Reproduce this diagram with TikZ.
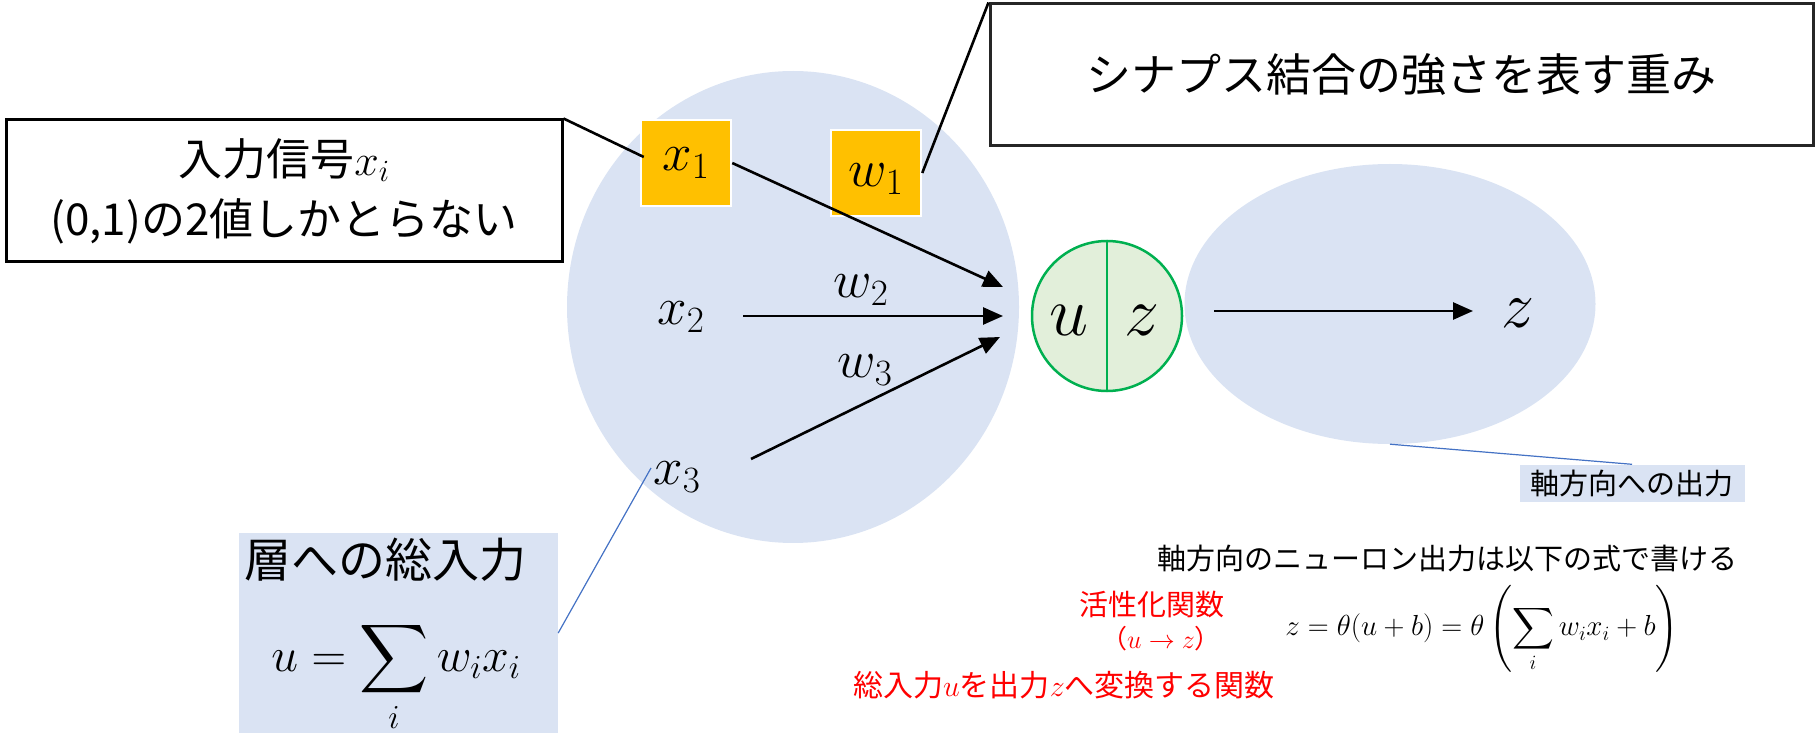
\RequirePackage{fix-cm}
\documentclass[tikz,border=0pt]{standalone}
\usepackage{exscale}
\DeclareFontShape{OMX}{cmex}{m}{n}{<->cmex10}{}
\usepackage[no-math]{fontspec}
\setmainfont{Noto Sans CJK JP}
\usetikzlibrary{arrows.meta,calc,shapes.geometric}
\definecolor{lblue}{HTML}{DAE3F3}
\definecolor{orng}{HTML}{FFC000}
\definecolor{gfill}{HTML}{E2EFDA}
\definecolor{gline}{HTML}{00B050}
\definecolor{bline}{HTML}{4472C4}
\newcommand{\setfs}[1]{\fontsize{#1}{#1}\selectfont}
\begin{document}
\begin{tikzpicture}[x=1pt,y=-1pt,
  arr/.style={line width=2.6pt,-{Triangle[length=20pt,width=17pt]}},
  callout/.style={line width=2.6pt},
  thinblue/.style={line width=1.2pt,draw=bline},
  textbox/.style={draw=black,line width=3pt,fill=white,inner sep=0pt},
  obox/.style={fill=orng,draw=white,line width=2.5pt,minimum width=90pt,minimum height=86pt,inner sep=0pt},
  mlab/.style={inner sep=0pt,font=\setfs{53}},
  blob/.style={ellipse,fill=lblue,inner sep=0pt},
]
\useasboundingbox (0,0) rectangle (1816,735);

% layer ellipse and axon ellipse
\node[blob,minimum width=452pt,minimum height=472pt] (layer) at (793,307) {};
\node[blob,minimum width=411pt,minimum height=280pt] (axon) at (1390,304) {};

% boxes with text
\node[textbox,minimum width=556pt,minimum height=142pt,align=center,font=\fontsize{44}{60}\selectfont] (inbox) at (284,191)
  {入力信号$x_i$\\(0,1)の2値しかとらない};
\node[textbox,draw=black!85,minimum width=823pt,minimum height=142pt,font=\setfs{45}] (wbox) at (1401.5,75)
  {シナプス結合の強さを表す重み};

% orange boxes
\node[obox] (x1box) at (686,163) {};
\node[mlab] (x1) at (686,163) {$x_1$};
\node[obox] (w1box) at (876,173) {};
\node[mlab] (w1) at (876,179) {$w_1$};

% other labels
\node[mlab] (x2) at (681,317) {$x_2$};
\node[mlab] (x3) at (677,477) {$x_3$};
\node[mlab] (w2) at (861,290) {$w_2$};
\node[mlab] (w3) at (865,370) {$w_3$};

% neuron body
\node[circle,fill=gfill,draw=gline,line width=2.5pt,minimum size=150pt,inner sep=0pt] (body) at (1107,316) {};
\draw[gline,line width=2.5pt] (body.north) -- (body.south);
\node[inner sep=0pt,font=\setfs{70}] (u) at (1069,320) {$u$};
\node[inner sep=0pt,font=\setfs{70}] (zb) at (1142,320) {$z$};

% output z
\node[inner sep=0pt,font=\setfs{66}] (zout) at (1518,313) {$z$};

% arrow coordinates
\coordinate (e1) at (1003,287);
\coordinate (e2) at (1003,316);
\coordinate (e3) at (1000,337);
\coordinate (s2) at (743,316);
\coordinate (s3) at (751,459);
\coordinate (so) at (1214,311);
\coordinate (eo) at (1473,311);

\draw[arr] (x1box.east) -- (e1);
\draw[arr] (s2) -- (e2);
\draw[arr] (s3) -- (e3);
\draw[arr] (so) -- (eo);

% callouts
\draw[callout] (inbox.north east) -- ($(x1box.west)+(4,-6)$);
\draw[callout] (wbox.north west) -- (w1box.east);

% sum box
\node[fill=lblue,minimum width=319pt,minimum height=200pt,inner sep=0pt] (sumbox) at (398.5,633) {};
\node[inner sep=0pt,font=\setfs{47}] (sumtitle) at (385,560) {層への総入力};
\node[inner sep=0pt,font=\setfs{48}] (sumeq) at (396,677) {$\displaystyle u=\sum_i w_i x_i$};
\coordinate (x3tip) at (651,468);
\draw[thinblue] (x3tip) -- (sumbox.east);

% output label
\node[fill=lblue,minimum width=225pt,minimum height=37pt,inner sep=0pt,font=\setfs{29}] (outlab) at (1632,483) {軸方向への出力};
\draw[thinblue] (axon.south) -- (outlab.north);

% bottom right texts
\node[inner sep=0pt,font=\setfs{29}] (note) at (1447,558) {軸方向のニューロン出力は以下の式で書ける};
\node[inner sep=0pt,font=\setfs{29},text=red] (act) at (1152,605) {活性化関数};
\node[inner sep=0pt,font=\setfs{26},text=red] (uz) at (1161,639) {（$u\to z$）};
\node[inner sep=0pt,font=\setfs{29}] (zeq) at (1482,629) {$\displaystyle z=\theta(u+b)=\theta\left(\sum_i w_i x_i+b\right)$};
\node[inner sep=0pt,font=\setfs{30},text=red] (conv) at (1064,685) {総入力$u$を出力$z$へ変換する関数};
\end{tikzpicture}
\end{document}
